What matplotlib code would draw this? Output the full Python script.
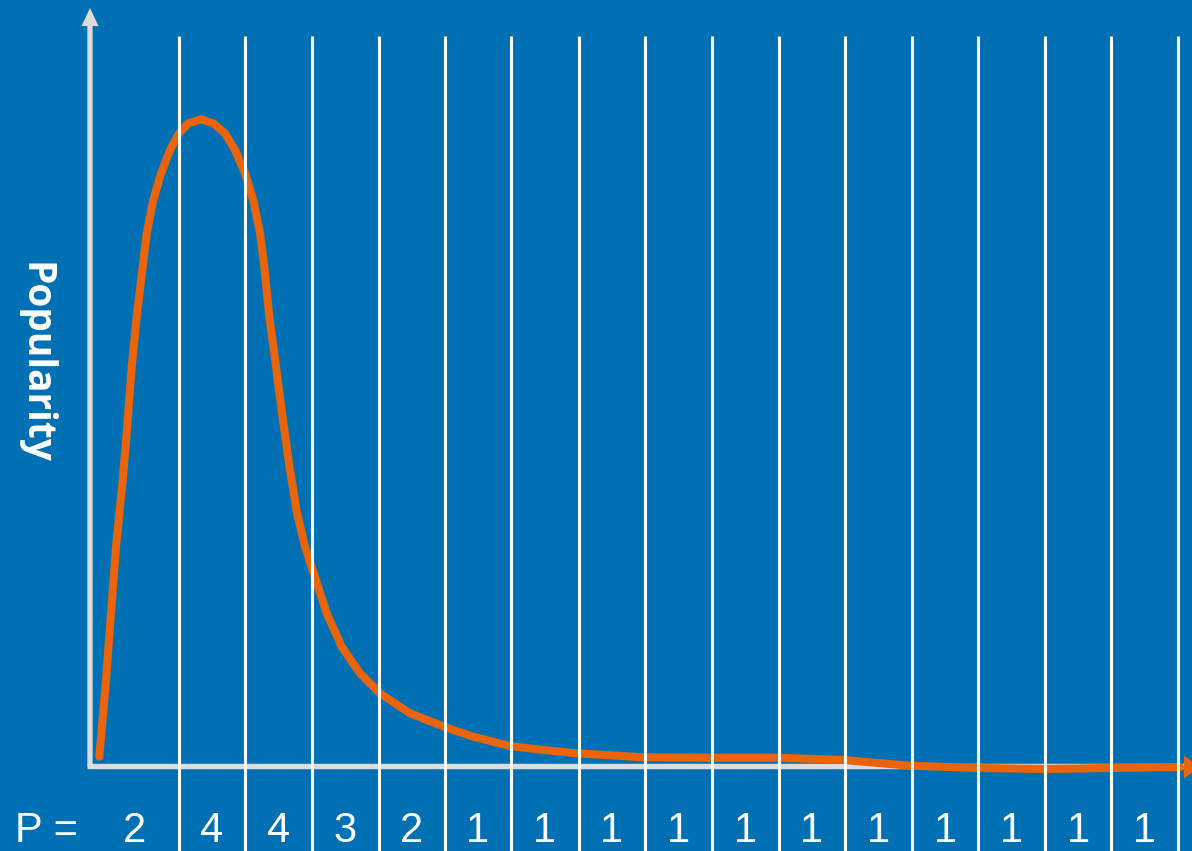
import matplotlib
matplotlib.use("Agg")
import matplotlib.pyplot as plt

# popularity curve, x measured from the origin of the chart
curve_x = [9.3, 16, 21, 26, 32.7, 36.7, 41.7, 46.7, 52.7, 56.7, 63.3, 71, 80, 89,
           98.3, 111, 123.3, 135, 145, 155, 163.3, 170, 174.3, 179.3, 186, 192.5,
           199.5, 207, 215, 226, 236.7, 251.7, 270, 290, 320, 358.3, 383.3, 420,
           453.3, 486.7, 553.3, 620, 686.7, 753.3, 820, 888, 955, 1022, 1090]
curve_y = [9.3, 86, 152.7, 219.3, 286, 332.7, 399.3, 449.3, 499.3, 532.7, 566,
           592.7, 616, 632.7, 642.7, 646.7, 642.7, 632.7, 616, 592.7, 566, 532.7,
           499.3, 449.3, 399.3, 349.3, 299.3, 253, 219.3, 186, 152.7, 119.3, 92.7,
           72.7, 52.7, 37.7, 29.3, 20, 16, 12.7, 8.7, 8.3, 8.3, 6, 0.3, -2, -3, -2, -1]

# period boundaries and the P value of each period
column_edges = [88.6, 154.8, 221.7, 288.6, 354.7, 420.8, 488.5, 554.7, 621.6,
                688.5, 754.6, 821.5, 888.4, 955.3, 1021.4, 1088.3, 1155.0]
p_values = [2, 4, 4, 3, 2, 1, 1, 1, 1, 1, 1, 1, 1, 1, 1, 1]

BG = "#0070B5"
ORANGE = "#E9640A"
AXIS = "#DCDCDC"

fig = plt.figure(figsize=(11.92, 8.51), dpi=100, facecolor=BG)
ax = fig.add_axes([0, 0, 1, 1])
ax.set_facecolor(BG)
ax.set_xlim(-90, 1102)
ax.set_ylim(-85, 766)
ax.axis("off")

# axes with arrow heads
ax.arrow(0, 0, 0, 758, width=5.3, head_width=17, head_length=18,
         length_includes_head=True, color=AXIS, lw=0, zorder=2)
ax.plot([-3, 1102], [0, 0], color=AXIS, lw=3.9, solid_capstyle="butt", zorder=2)

# popularity curve
ax.plot(curve_x, curve_y, color=ORANGE, lw=5.8, solid_capstyle="round",
        solid_joinstyle="round", zorder=3)
ax.arrow(curve_x[-1], curve_y[-1], 20, 0, width=0, head_width=23, head_length=16,
         length_includes_head=True, color=ORANGE, lw=0, zorder=3)

# period dividers
ax.vlines(column_edges[:-1], -85, 730, colors="white", lw=2.2, zorder=4)

# P values centred in each period
starts = [0] + column_edges[:-1]
for left, right, p in zip(starts, column_edges, p_values):
    ax.text((left + right) / 2, -76, str(p), color="white", fontsize=30,
            family="Liberation Sans", ha="center", va="baseline", zorder=5)
ax.text(-75, -76, "P =", color="white", fontsize=30, family="Liberation Sans",
        ha="left", va="baseline", zorder=5)

ax.text(-55, 403, "Popularity", color="white", fontsize=28, fontweight="bold",
        family="Open Sans", rotation=-90, ha="center", va="center", zorder=5)

fig.savefig("out.png", dpi=100, facecolor=BG)
